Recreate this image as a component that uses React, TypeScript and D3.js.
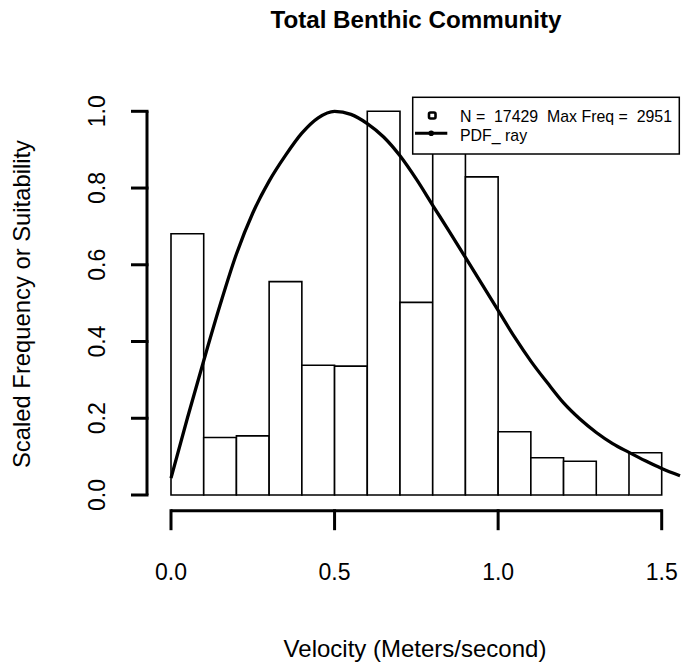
import React from "react";
import * as d3 from "d3";

// Histogram bins (left edges, width 0.1 m/s) and scaled frequencies
const binStarts = [0.0, 0.1, 0.2, 0.3, 0.4, 0.5, 0.6, 0.7, 0.8, 0.9, 1.0, 1.1, 1.2, 1.3, 1.4];
const binWidth = 0.1;
const scaledFreq = [0.681, 0.150, 0.154, 0.556, 0.338, 0.336, 1.0, 0.502, 0.94, 0.829, 0.165, 0.097, 0.088, 0.0, 0.110];

// Fitted Rayleigh suitability curve (velocity, scaled value)
const pdfVelocity = [
  0.0, 0.05, 0.1, 0.15, 0.2, 0.25, 0.3, 0.35, 0.4, 0.45, 0.5, 0.55, 0.6, 0.65, 0.7, 0.75,
  0.8, 0.85, 0.9, 0.95, 1.0, 1.05, 1.1, 1.15, 1.2, 1.25, 1.3, 1.35, 1.4, 1.45, 1.5, 1.556,
];
const pdfValue = [
  0.044, 0.2, 0.35, 0.495, 0.628, 0.735, 0.818, 0.885, 0.943, 0.983, 1.0, 0.992, 0.968, 0.933, 0.884, 0.823,
  0.755, 0.688, 0.619, 0.55, 0.481, 0.412, 0.349, 0.293, 0.24, 0.198, 0.163, 0.134, 0.111, 0.089, 0.069, 0.05,
];

const xTicks = [0, 0.5, 1.0, 1.5];
const yTicks = [0, 0.2, 0.4, 0.6, 0.8, 1.0];

const title = "Total Benthic Community";
const xLabel = "Velocity (Meters/second)";
const yLabel = "Scaled Frequency or Suitability";
const legendN = "N =  17429  Max Freq =  2951";
const legendPdf = "PDF_ ray";

const W = 683;
const H = 669;
const FONT = "'Liberation Sans', Arial, sans-serif";

export default function App() {
  const x = d3.scaleLinear().domain([0, 1.5]).range([171, 661.7]);
  const y = d3.scaleLinear().domain([0, 1]).range([495, 111.3]);

  const line = d3
    .line<number>()
    .x((_, i) => x(pdfVelocity[i]))
    .y((d) => y(d))
    .curve(d3.curveMonotoneX);

  const xAxisY = 510.7;
  const yAxisX = 147;

  return (
    <svg
      width={W}
      height={H}
      style={{ position: "absolute", left: 0, top: 0, background: "#fff" }}
      fontFamily={FONT}
    >
      <rect x={0} y={0} width={W} height={H} fill="#fff" />

      {/* title */}
      <text x={416} y={28} textAnchor="middle" fontSize={24.2} fontWeight="bold">
        {title}
      </text>

      {/* histogram bars */}
      {binStarts.map((b, i) => {
        const x0 = x(b);
        const x1 = x(b + binWidth);
        const y0 = y(0);
        const y1 = y(scaledFreq[i]);
        return (
          <path
            key={i}
            d={`M${x0},${y0}H${x1}V${y1}H${x0}Z`}
            fill="#fff"
            stroke="#000"
            strokeWidth={1.6}
          />
        );
      })}

      {/* fitted curve */}
      <path d={line(pdfValue) || ""} fill="none" stroke="#000" strokeWidth={3.3} strokeLinejoin="round" />

      {/* x axis */}
      <g stroke="#000" strokeWidth={3} strokeLinecap="butt">
        <line x1={x(0)} x2={x(1.5)} y1={xAxisY} y2={xAxisY} />
        {xTicks.map((t) => (
          <line key={t} x1={x(t)} x2={x(t)} y1={xAxisY - 1.5} y2={xAxisY + 19.5} />
        ))}
      </g>
      {xTicks.map((t) => (
        <text key={t} x={x(t)} y={580} textAnchor="middle" fontSize={23}>
          {d3.format(".1f")(t)}
        </text>
      ))}

      {/* y axis */}
      <g stroke="#000" strokeWidth={3}>
        <line x1={yAxisX} x2={yAxisX} y1={y(1)} y2={y(0)} />
        {yTicks.map((t) => (
          <line key={t} x1={yAxisX + 1.5} x2={yAxisX - 16} y1={y(t)} y2={y(t)} />
        ))}
      </g>
      {yTicks.map((t) => (
        <text
          key={t}
          transform={`translate(${104.5},${y(t)}) rotate(-90)`}
          textAnchor="middle"
          fontSize={23}
        >
          {d3.format(".1f")(t)}
        </text>
      ))}

      {/* axis titles */}
      <text x={415} y={657} textAnchor="middle" fontSize={24}>
        {xLabel}
      </text>
      <text
        transform={`translate(${29.5},${304}) rotate(-90)`}
        textAnchor="middle"
        fontSize={23.8}
      >
        {yLabel}
      </text>

      {/* legend */}
      <rect x={412.7} y={97.3} width={266.6} height={56.7} fill="#fff" stroke="#000" strokeWidth={1.5} />
      <rect x={429} y={112.5} width={6.5} height={6} rx={1.5} fill="#fff" stroke="#000" strokeWidth={2.6} />
      <text x={460} y={121.7} fontSize={15.9} style={{ whiteSpace: "pre" }}>
        {legendN}
      </text>
      <line x1={415} x2={447.3} y1={133.3} y2={133.3} stroke="#000" strokeWidth={3} />
      <circle cx={431.2} cy={133.3} r={2.8} fill="#000" />
      <text x={460} y={140.5} fontSize={15.9} style={{ whiteSpace: "pre" }}>
        {legendPdf}
      </text>
    </svg>
  );
}
